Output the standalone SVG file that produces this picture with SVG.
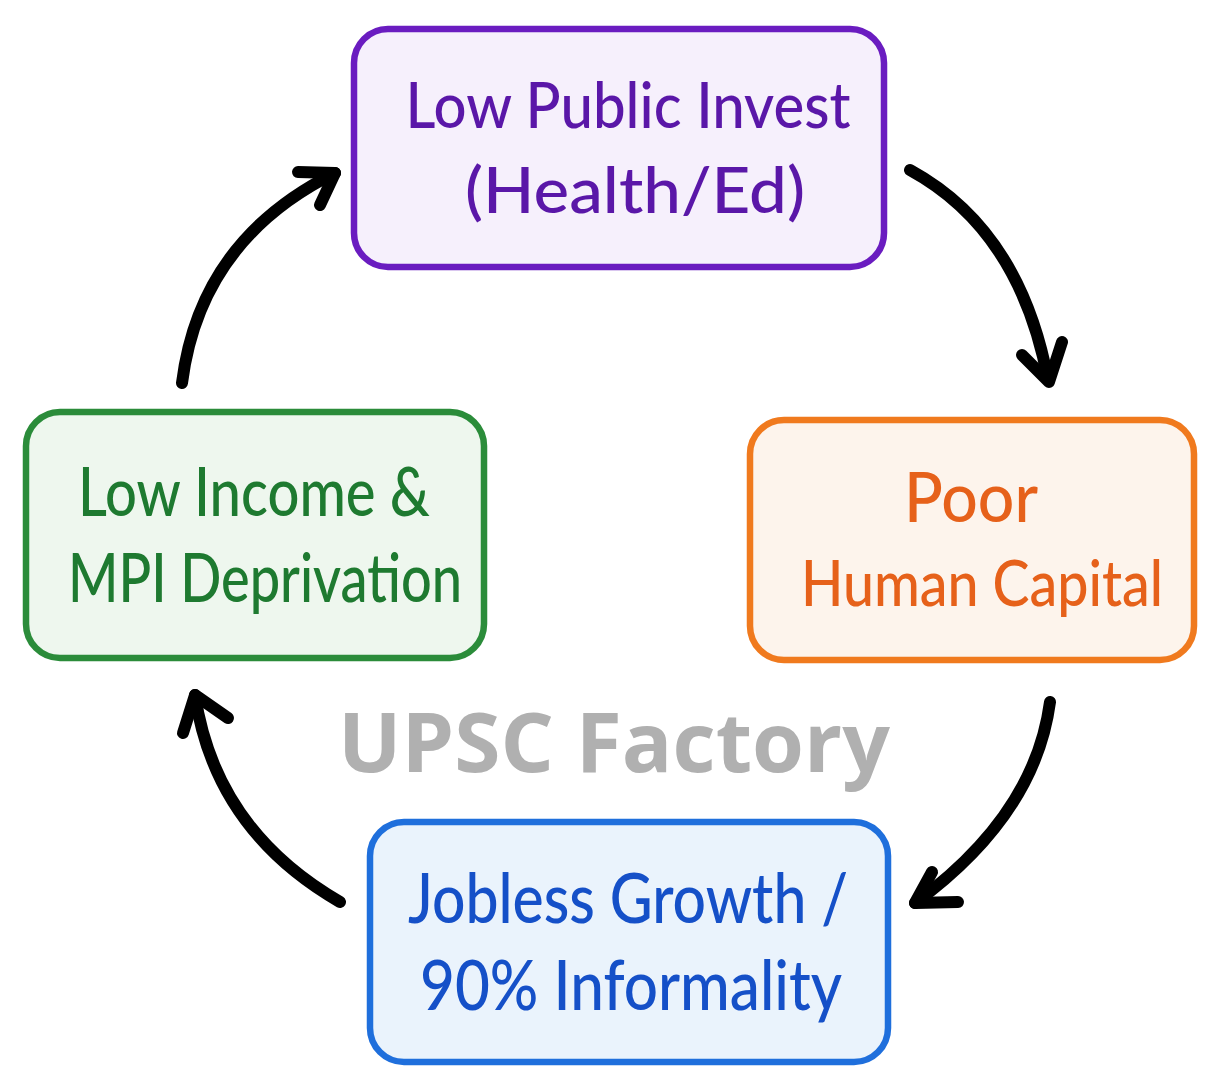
<svg xmlns="http://www.w3.org/2000/svg" width="1221" height="1090" viewBox="0 0 1221 1090">
<style>
.box{stroke-width:6.5}
.lbl{font-family:Lato,"Noto Sans",sans-serif;font-weight:500;text-anchor:middle}
.arr{fill:none;stroke:#000;stroke-width:12;stroke-linecap:round;stroke-linejoin:round}
.wm{font-family:"Open Sans","Noto Sans",sans-serif;font-weight:bold;fill:#b0b0b0}
</style>
<rect width="1221" height="1090" fill="#ffffff"/>
<g id="connectors">
<path class="arr" d="M910,170 Q1020,230 1048,380"/>
<path class="arr" d="M1022,355 L1049,382 L1062,342"/>
<path class="arr" d="M1050,702 Q1035,815 915,903"/>
<path class="arr" d="M932,872 L915,903 L958,902"/>
<path class="arr" d="M340,902 Q215,830 195,695"/>
<path class="arr" d="M183,733 L195,695 L228,718"/>
<path class="arr" d="M182,383 Q200,240 335,173"/>
<path class="arr" d="M298,172 L335,173 L320,205"/>
</g>
<text class="wm" x="338" y="772" font-size="82" textLength="552" lengthAdjust="spacingAndGlyphs">UPSC Factory</text>
<g id="node-public-invest">
<rect class="box" x="354" y="29" width="530" height="238" rx="34" fill="#f6f0fc" stroke="#6a1cc0"/>
<text class="lbl" x="628" y="128" font-size="64" fill="#5a17a8" textLength="445" lengthAdjust="spacingAndGlyphs">Low Public Invest</text>
<text class="lbl" x="635" y="213" font-size="64" fill="#5a17a8" textLength="340" lengthAdjust="spacingAndGlyphs">(Health/Ed)</text>
</g>
<g id="node-human-capital">
<rect class="box" x="750" y="420" width="444" height="240" rx="34" fill="#fdf4ec" stroke="#f07a1e"/>
<text class="lbl" x="971" y="522" font-size="70" fill="#e6611a" textLength="134" lengthAdjust="spacingAndGlyphs">Poor</text>
<text class="lbl" x="982" y="606" font-size="64" fill="#e6611a" textLength="362" lengthAdjust="spacingAndGlyphs">Human Capital</text>
</g>
<g id="node-jobless-growth">
<rect class="box" x="370" y="822" width="518" height="240" rx="34" fill="#eaf3fc" stroke="#1f6fdc"/>
<text class="lbl" x="628" y="923" font-size="70" fill="#1550c8" textLength="440" lengthAdjust="spacingAndGlyphs">Jobless Growth /</text>
<text class="lbl" x="631" y="1010" font-size="70" fill="#1550c8" textLength="422" lengthAdjust="spacingAndGlyphs">90% Informality</text>
</g>
<g id="node-low-income">
<rect class="box" x="26" y="412" width="458" height="246" rx="34" fill="#eef7ee" stroke="#2b8c3a"/>
<text class="lbl" x="254" y="516" font-size="68" fill="#1e7a30" textLength="352" lengthAdjust="spacingAndGlyphs">Low Income &amp;</text>
<text class="lbl" x="265" y="602" font-size="68" fill="#1e7a30" textLength="394" lengthAdjust="spacingAndGlyphs">MPI Deprivation</text>
</g>
</svg>
